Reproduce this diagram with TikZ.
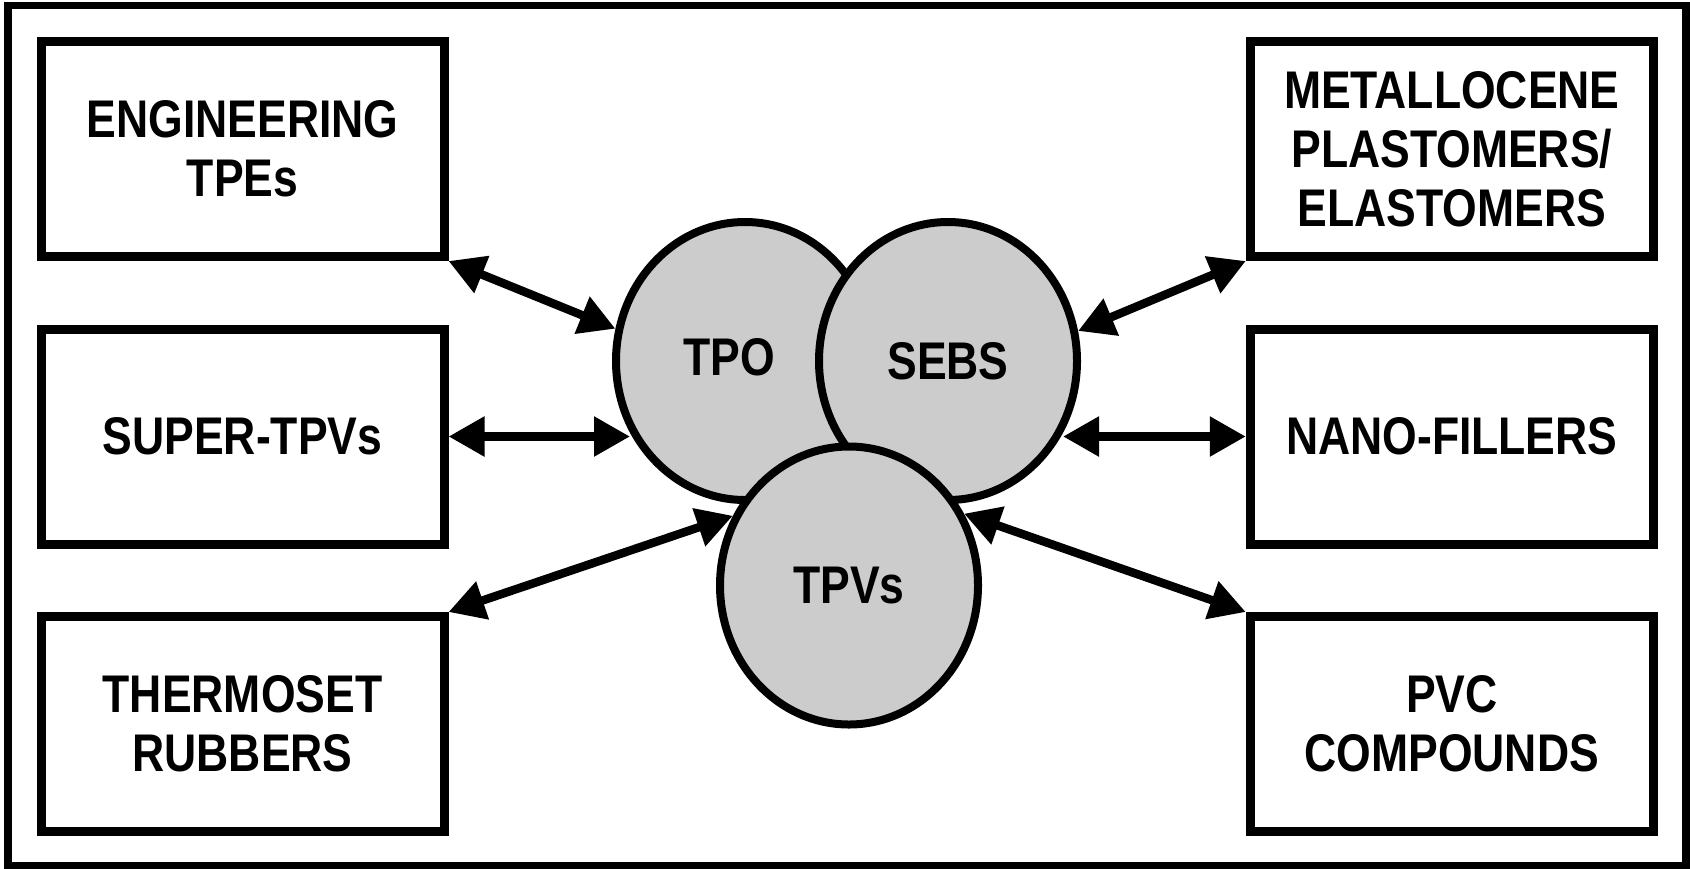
\documentclass[tikz,border=0pt]{standalone}
\usepackage{fontspec}
\setmainfont{Liberation Sans}[FakeStretch=0.84]
\usetikzlibrary{shapes.geometric, arrows.meta}
\tikzstyle{box} = [draw, line width=4.5pt, minimum width=201.5pt, minimum height=107.5pt, align=center, inner sep=0pt]
\tikzstyle{blob} = [ellipse, draw, line width=4pt, fill=gray!40, minimum width=129pt, minimum height=139pt, inner sep=0pt]
\tikzstyle{arrow} = [line width=4.25pt, {Triangle[length=18pt,width=19pt]}-{Triangle[length=18pt,width=19pt]}]

\begin{document}
\begin{tikzpicture}[x=0.5pt, y=-0.5pt, font=\fontsize{26.5}{29.5}\selectfont\bfseries]
        \useasboundingbox (0,0) rectangle (1690,868);
        \draw[line width=3.8pt] (8,5.5) rectangle (1686,865.5);
        % left column
        \node[box] (eng) at (242.5,149) {ENGINEERING\\TPEs};
        \node[box] (super) at (242.5,436.5) {SUPER-TPVs};
        \node[box] (thermo) at (242.5,724) {THERMOSET\\RUBBERS};
        % right column
        \node[box] (metal) at (1451.8,149) {METALLOCENE\\PLASTOMERS/\\ELASTOMERS};
        \node[box] (nano) at (1451.8,436.5) {NANO-FILLERS};
        \node[box] (pvc) at (1451.8,724) {PVC\\COMPOUNDS};
        % overlapping blobs, drawn back to front
        \node[blob, label={[xshift=-8pt, yshift=2pt]center:TPO}] (tpo) at (745,361) {};
        \node[blob] (sebs) at (948,361) {SEBS};
        \node[blob] (tpvs) at (849,585.5) {TPVs};
        \draw[arrow] (eng.south east) -- (tpo.166);
        \draw[arrow] (super.east) -- (super.east -| tpo.212);
        \draw[arrow] (thermo.north east) -- (tpvs.149);
        \draw[arrow] (metal.south west) -- (sebs.13);
        \draw[arrow] (nano.west) -- (nano.west -| sebs.-32);
        \draw[arrow] (pvc.north west) -- (tpvs.32);
    \end{tikzpicture}
\end{document}
